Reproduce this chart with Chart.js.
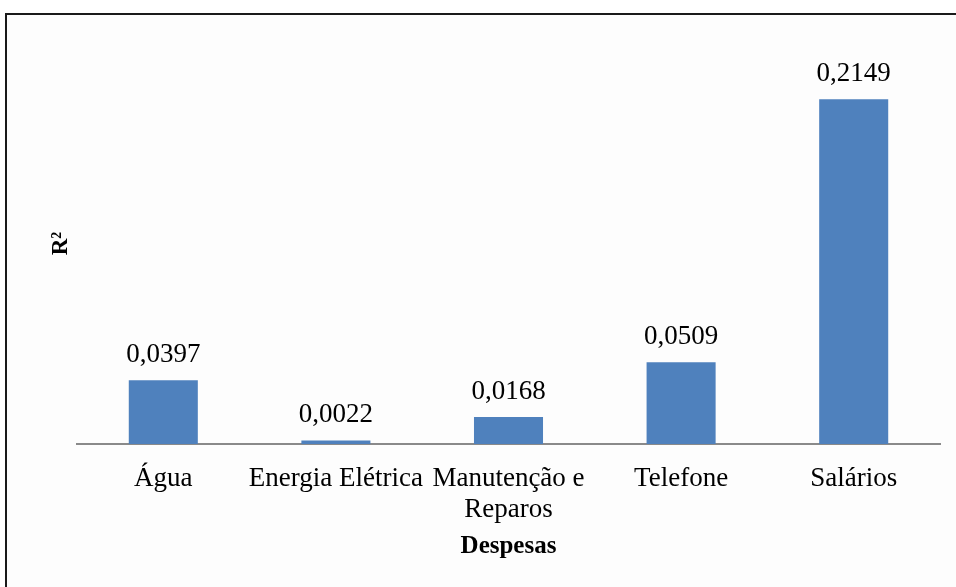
<!DOCTYPE html>
<html>
<head>
<meta charset="utf-8">
<script src="https://cdn.jsdelivr.net/npm/chart.js@4/dist/chart.umd.min.js"></script>
<style>
  html, body { margin: 0; padding: 0; background: #ffffff; overflow: hidden; width: 956px; height: 587px; }
  #frame { position: absolute; left: 5px; top: 13px; width: 980px; height: 620px; border: 2px solid #1a1a1a; background: #fdfdfd; box-sizing: border-box; z-index: 0; }
  #wrap { position: absolute; left: 0; top: 0; width: 956px; height: 587px; z-index: 1; }
</style>
</head>
<body>
<div id="frame"></div>
<div id="wrap"><canvas id="c" width="956" height="587"></canvas></div>
<script>
const categories = ["Água", "Energia Elétrica", ["Manutenção e", "Reparos"], "Telefone", "Salários"];
const r2Values = [0.0397, 0.0022, 0.0168, 0.0509, 0.2149];
const valueLabels = ["0,0397", "0,0022", "0,0168", "0,0509", "0,2149"];
const yTitle = "R²";
const xTitle = "Despesas";

const FONT = "'Liberation Serif', 'Times New Roman', serif";

const valueLabelPlugin = {
  id: 'valueLabels',
  afterDatasetsDraw(chart) {
    const ctx = chart.ctx;
    const meta = chart.getDatasetMeta(0);
    ctx.save();
    ctx.font = "27px " + FONT;
    ctx.fillStyle = "#000000";
    ctx.textAlign = "center";
    ctx.textBaseline = "alphabetic";
    meta.data.forEach((bar, i) => {
      ctx.fillText(valueLabels[i], bar.x, bar.y - 18);
    });
    ctx.restore();
  }
};

new Chart(document.getElementById('c'), {
  type: 'bar',
  data: {
    labels: categories,
    datasets: [{
      data: r2Values,
      backgroundColor: '#4F81BD',
      borderWidth: 0,
      categoryPercentage: 1.0,
      barPercentage: 0.4
    }]
  },
  plugins: [valueLabelPlugin],
  options: {
    responsive: false,
    animation: false,
    devicePixelRatio: 1,
    layout: { padding: { left: 47, right: 16, top: 43, bottom: 0 } },
    plugins: { legend: { display: false }, tooltip: { enabled: false } },
    scales: {
      x: {
        grid: { display: false, drawTicks: false },
        border: { display: true, color: '#8a8a8a', width: 2 },
        ticks: { color: '#000', font: { family: FONT, size: 27, lineHeight: 1.15 }, padding: 19, maxRotation: 0, autoSkip: false },
        title: { display: true, text: xTitle, color: '#000', font: { family: FONT, size: 25, weight: 'bold', lineHeight: 1.2 }, padding: { top: 0, bottom: 25 } },
        afterFit(scale) { scale.height = 143; }
      },
      y: {
        min: 0, max: 0.25,
        grid: { display: false, drawTicks: false },
        border: { display: false },
        ticks: { display: false },
        title: { display: true, text: yTitle, color: '#000', font: { family: FONT, size: 23, weight: 'bold', lineHeight: 1.2 }, padding: { top: 0, bottom: 0 } },
        afterFit(scale) { scale.width = 30; }
      }
    }
  }
});
</script>
</body>
</html>
